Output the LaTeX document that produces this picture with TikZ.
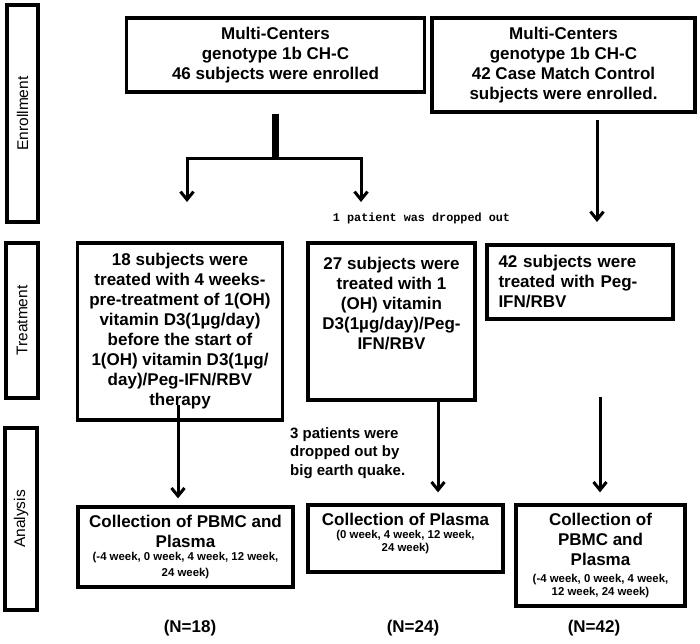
\documentclass[tikz,border=0pt]{standalone}
\usepackage{fontspec}
\setmainfont{Liberation Sans}
\newfontfamily\monofont{Liberation Mono}
\usetikzlibrary{arrows.meta}
\newcommand{\weekfont}{\fontsize{11.4}{15.5}\selectfont}

\begin{document}
\begin{tikzpicture}[x=1pt,y=1pt,yscale=-1,xscale=1,
    box/.style={draw, line width=3.3pt, inner sep=0pt, align=center,
      font=\bfseries\fontsize{17}{20}\selectfont},
    sidebox/.style={draw, line width=3.3pt, inner sep=0pt, rotate=90,
      font=\fontsize{15.5}{18}\selectfont},
    arrow/.style={line width=3pt, -{Straight Barb[length=8pt,width=13pt,line width=3pt]}},
    stem/.style={line width=6.5pt},
    note/.style={inner sep=0pt, align=left, font=\bfseries\fontsize{15}{18.5}\selectfont},
    count/.style={inner sep=0pt, font=\bfseries\fontsize{17}{20}\selectfont}]
        \useasboundingbox (0,0) rectangle (700,643);

        % Side labels
        \node [sidebox, minimum width=217, minimum height=31] (enrollment) at (22.5,113.5) {Enrollment};
        \node [sidebox, minimum width=155, minimum height=32] (treatment) at (22,320.5) {Treatment};
        \node [sidebox, minimum width=182, minimum height=32] (analysis) at (21,519) {Analysis};

        % Enrollment boxes
        \node [box, minimum width=298, minimum height=74] (centers) at (275.5,55)
          {Multi-Centers\\genotype 1b CH-C\\46 subjects were enrolled};
        \node [box, minimum width=263, minimum height=94] (control) at (563.5,65)
          {Multi-Centers\\genotype 1b CH-C\\42 Case Match Control\\subjects were enrolled.};

        % Treatment boxes
        \node [box, minimum width=205, minimum height=177] (pretreat) at (180,331.5)
          {18 subjects were\\treated with 4 weeks-\\pre-treatment of 1(OH)\\vitamin D3(1µg/day)\\before the start of\\1(OH) vitamin D3(1µg/\\day)/Peg-IFN/RBV\\therapy};
        \node [box, minimum width=167, minimum height=157] (vitamin) at (391.5,321.5) {};
        \node [box, draw=none, anchor=north] (vitamintxt) at (391.5,256)
          {27 subjects were\\treated with 1\\(OH) vitamin\\D3(1µg/day)/Peg-\\IFN/RBV};
        \node [box, align=left, inner xsep=11.5pt, text width=163pt, minimum height=74] (pegifn) at (580,282)
          {42 subjects were\\treated with Peg-\\IFN/RBV};

        % Analysis boxes
        \node [box, minimum width=215, minimum height=80] (pbmcA) at (185.5,547)
          {Collection of PBMC and\\Plasma\\[-7pt]{\weekfont(-4 week, 0 week, 4 week, 12 week,}\\[-4pt]{\weekfont24 week)}};
        \node [box, minimum width=195, minimum height=67] (plasma) at (405.5,538.5)
          {Collection of Plasma\\[-6.5pt]{\weekfont(0 week, 4 week, 12 week,}\\[-7pt]{\weekfont24 week)}\\[-8pt]};
        \node [box, minimum width=169, minimum height=101] (pbmcC) at (600.5,555.5)
          {Collection of\\PBMC and\\Plasma\\[-3pt]{\weekfont(-4 week, 0 week, 4 week,}\\[-7pt]{\weekfont12 week, 24 week)}};

        % Text Node
        \node [inner sep=0pt, font=\monofont\bfseries\fontsize{11.8}{14}\selectfont] (dropone) at (421.5,218) {1 patient was dropped out};
        % Text Node
        \node [note, anchor=west] (dropthree) at (290,453) {3 patients were\\dropped out by\\big earth quake.};
        % Text Node
        \node [count] (nA) at (190,628) {(N=18)};
        \node [count] (nB) at (413,628) {(N=24)};
        \node [count] (nC) at (594,628) {(N=42)};

        % Connectors
        \coordinate (split) at (275.5,158);
        \coordinate (dropL) at (187,202);
        \coordinate (dropR) at (361,202);
        \coordinate (ctrlout) at (597,120);
        \coordinate (ctrlin) at (597,222);
        \coordinate (pretreatout) at (178,405);
        \coordinate (vitaminout) at (438,400);
        \coordinate (pegifnout) at (600,397);

        \draw [stem] ([yshift=20pt]centers.south) -- ([yshift=1.5pt]split);
        \draw [arrow] (split) -| (dropL);
        \draw [arrow] (split) -| (dropR);
        \draw [arrow] (ctrlout) -- (ctrlin);
        \draw [arrow, shorten >=7pt] (pretreatout) -- (pretreatout |- pbmcA.north);
        \draw [arrow, shorten >=11pt] (vitaminout) -- (vitaminout |- plasma.north);
        \draw [arrow, shorten >=11pt] (pegifnout) -- (pegifnout |- pbmcC.north);
\end{tikzpicture}
\end{document}
